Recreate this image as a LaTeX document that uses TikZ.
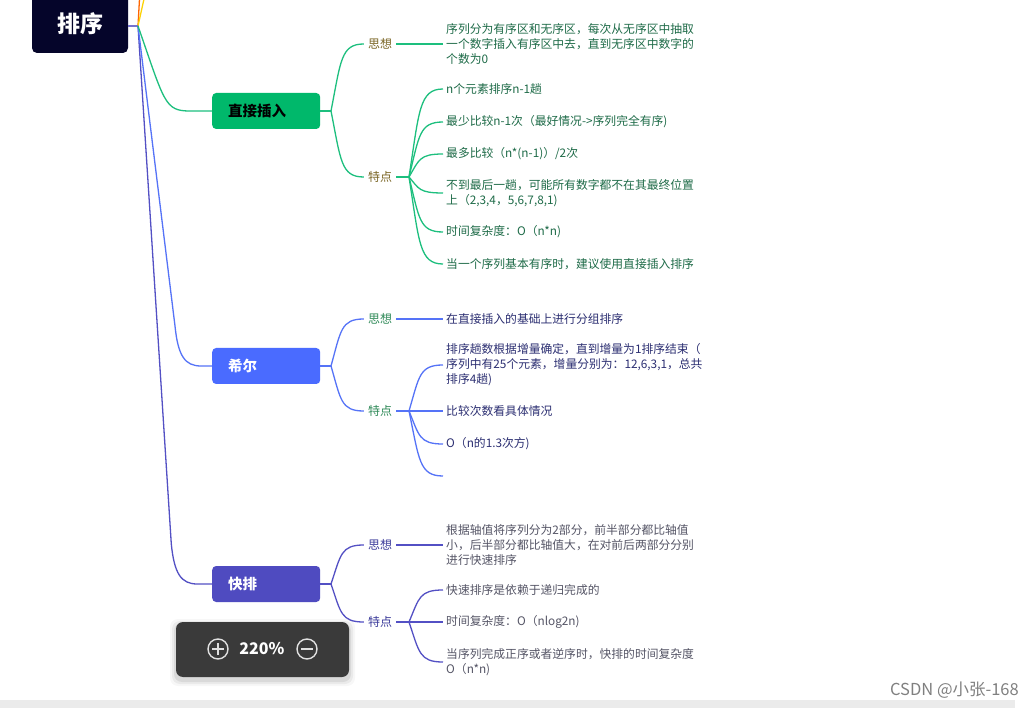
\documentclass[tikz,border=0pt]{standalone}
\usepackage{fontspec}
\setmainfont{Noto Sans CJK SC}
\usetikzlibrary{calc}
\definecolor{gline}{HTML}{1DBF7E}
\definecolor{gbox}{HTML}{00B86B}
\definecolor{bline}{HTML}{5573F7}
\definecolor{bbox}{HTML}{4A6BFF}
\definecolor{pline}{HTML}{5350C4}
\definecolor{pbox}{HTML}{4F4BC0}
\definecolor{rootc}{HTML}{05052A}
\definecolor{lblA}{HTML}{7A6524}
\definecolor{txtA}{HTML}{1E6B48}
\definecolor{lblB}{HTML}{2F8A58}
\definecolor{txtB}{HTML}{2C2F72}
\definecolor{lblC}{HTML}{3A3A9A}
\definecolor{txtC}{HTML}{555566}
\definecolor{widget}{HTML}{3A3A3A}
\begin{document}
\begin{tikzpicture}[x=1pt,y=-1pt,
  lbl/.style={font=\fontsize{12}{14}\selectfont, inner sep=4pt},
  leaf/.style={font=\fontsize{11.8}{15}\selectfont, align=left, anchor=west, inner sep=3pt},
  topic/.style={rounded corners=4pt, minimum width=108pt, minimum height=36pt, anchor=west,
    text width=76pt, inner xsep=16pt, inner ysep=0pt, align=left, font=\fontsize{14.5}{16}\selectfont\bfseries},
  conn/.style={line width=1.3pt},
  sig/.style={to path={let \p1=(\tikztostart), \p2=(\tikztotarget) in
     .. controls ({\x1+0.3*(\x2-\x1)},{\y1+0.75*(\y2-\y1)}) and ({\x1+0.3*(\x2-\x1)},{\y2}) .. (\tikztotarget) \tikztonodes}},
  greensig/.style={to path={let \p1=(\tikztostart), \p2=(\tikztotarget) in
     .. controls ({\x1+0.36*(\x2-\x1)},{\y1+0.9*(\y2-\y1)}) and ({\x1+0.36*(\x2-\x1)},{\y2}) .. ({\x1+0.7*(\x2-\x1)},{\y2}) -- (\tikztotarget) \tikztonodes}},
  mainsig/.style={to path={let \p1=(\tikztostart), \p2=(\tikztotarget) in
     -- ({\x1+#1*(\x2-\x1)},{\y2+40pt})
     .. controls ({\x1+#1*(\x2-\x1)+3pt},{\y2+10pt}) and ({\x1+#1*(\x2-\x1)+10pt},{\y2}) ..
     ({\x1+#1*(\x2-\x1)+26pt},{\y2}) -- (\tikztotarget) \tikztonodes}},
]
\useasboundingbox (0,0) rectangle (1034,708);
\clip (0,0) rectangle (1034,708);
\fill[white] (0,0) rectangle (1034,708);

% root
\node[fill=rootc, rounded corners=5pt, minimum width=96pt, minimum height=64pt, text=white,
  font=\fontsize{23}{25}\selectfont\bfseries] (root) at (80,21) {};
\node[text=white, font=\fontsize{23}{25}\selectfont\bfseries] (roottxt) at (80,24) {排序};
\coordinate (rootE) at (128,26);
\coordinate (hub) at (138,26);
\coordinate (offA) at (140,-10);
\coordinate (offB) at (146,-10);

% topics
\node[topic, fill=gbox, text=black] (n1) at (212,111) {直接插入};
\node[topic, fill=bbox, text=white] (n2) at (212,366) {希尔};
\node[topic, fill=pbox, text=white] (n3) at (212,584) {快排};

% main connectors
\draw[conn, color=orange!80!red] (hub) -- (offA);
\draw[conn, color=yellow!70!orange] (hub) -- (offB);
\draw[conn, pline!80] (rootE) -- (hub);
\draw[conn, pline] (hub) to[mainsig=0.45] (n3.west);
\draw[conn, bline] (hub) to[mainsig=0.50] (n2.west);
\draw[conn, gline] (hub) to[greensig] (n1.west);

% ---------- branch 1 ----------
\coordinate (f1) at (331,111);
\node[lbl, text=lblA] (s1) at (380,44) {思想};
\node[lbl, text=lblA] (t1) at (380,177) {特点};
\coordinate (tf1) at (409,177);
\node[leaf, text=txtA] (a0) at (443,44) {序列分为有序区和无序区，每次从无序区中抽取\\一个数字插入有序区中去，直到无序区中数字的\\个数为0};
\node[leaf, text=txtA] (a1) at (443,89) {n个元素排序n-1趟};
\node[leaf, text=txtA] (a2) at (443,122) {最少比较n-1次（最好情况->序列完全有序)};
\node[leaf, text=txtA] (a3) at (443,154) {最多比较（n*(n-1)）/2次};
\node[leaf, text=txtA] (a4) at (443,193) {不到最后一趟，可能所有数字都不在其最终位置\\上（2,3,4，5,6,7,8,1)};
\node[leaf, text=txtA] (a5) at (443,232) {时间复杂度：O（n*n)};
\node[leaf, text=txtA] (a6) at (443,264) {当一个序列基本有序时，建议使用直接插入排序};
\begin{scope}[conn, gline]
\draw (n1.east) -- (f1);
\draw (f1) to[sig] (s1.west);
\draw (f1) to[sig] (t1.west);
\draw (s1.east) -- (a0.west);
\draw (t1.east) -- (tf1);
\foreach \nm in {a1,a2,a3,a4,a5,a6} \draw (tf1) to[sig] (\nm.west);
\end{scope}

% ---------- branch 2 ----------
\coordinate (f2) at (331,366);
\node[lbl, text=lblB] (s2) at (380,319) {思想};
\node[lbl, text=lblB] (t2) at (380,411) {特点};
\coordinate (tf2) at (409,411);
\node[leaf, text=txtB] (b0) at (443,319) {在直接插入的基础上进行分组排序};
\node[leaf, text=txtB] (b1) at (443,365) {排序趟数根据增量确定，直到增量为1排序结束（\\序列中有25个元素，增量分别为：12,6,3,1，总共\\排序4趟)};
\node[leaf, text=txtB] (b2) at (443,411) {比较次数看具体情况};
\node[leaf, text=txtB] (b3) at (443,444) {O（n的1.3次方)};
\coordinate (b4) at (443,476);
\begin{scope}[conn, bline]
\draw (n2.east) -- (f2);
\draw (f2) to[sig] (s2.west);
\draw (f2) to[sig] (t2.west);
\draw (s2.east) -- (b0.west);
\draw (t2.east) -- (tf2);
\foreach \nm in {b1.west,b2.west,b3.west,b4} \draw (tf2) to[sig] (\nm);
\end{scope}

% ---------- branch 3 ----------
\coordinate (f3) at (331,584);
\node[lbl, text=lblC] (s3) at (380,545) {思想};
\node[lbl, text=lblC] (t3) at (380,622) {特点};
\coordinate (tf3) at (409,622);
\node[leaf, text=txtC] (c0) at (443,545) {根据轴值将序列分为2部分，前半部分都比轴值\\小，后半部分都比轴值大，在对前后两部分分别\\进行快速排序};
\node[leaf, text=txtC] (c1) at (443,590) {快速排序是依赖于递归完成的};
\node[leaf, text=txtC] (c2) at (443,622) {时间复杂度：O（nlog2n)};
\node[leaf, text=txtC] (c3) at (443,662) {当序列完成正序或者逆序时，快排的时间复杂度\\O（n*n)};
\begin{scope}[conn, pline]
\draw (n3.east) -- (f3);
\draw (f3) to[sig] (s3.west);
\draw (f3) to[sig] (t3.west);
\draw (s3.east) -- (c0.west);
\draw (t3.east) -- (tf3);
\foreach \nm in {c1,c2,c3} \draw (tf3) to[sig] (\nm.west);
\end{scope}

% ---------- zoom widget ----------
\foreach \k/\o in {6/0.03,4/0.05,2/0.07}
  \fill[black, opacity=\o, rounded corners=8pt] (176-\k,622-\k+3) rectangle (349+\k,677+\k+3);
\node[fill=widget, rounded corners=7pt, minimum width=173pt, minimum height=55pt, inner sep=0pt] (wid) at (262.5,649.5) {};
\node[circle, draw=white!88!black, line width=1.4pt, minimum size=20pt, inner sep=0pt] (plus) at (218,649) {};
\draw[white!88!black, line width=1.4pt] ($(plus.center)+(-6,0)$) -- ($(plus.center)+(6,0)$)
  ($(plus.center)+(0,-6)$) -- ($(plus.center)+(0,6)$);
\node[text=white, font=\fontsize{16}{18}\selectfont\bfseries] (pct) at (262,649) {220\%};
\node[circle, draw=white!88!black, line width=1.4pt, minimum size=20pt, inner sep=0pt] (minus) at (307,649) {};
\draw[white!88!black, line width=1.4pt] ($(minus.center)+(-6,0)$) -- ($(minus.center)+(6,0)$);

% bottom bar and watermark
\fill[black!8] (0,700) rectangle (1015,708);
\node[anchor=east, text=black!50, font=\fontsize{16.5}{18}\selectfont, inner sep=0pt] (wm) at (1019,690) {CSDN @小张-168};
\end{tikzpicture}
\end{document}
